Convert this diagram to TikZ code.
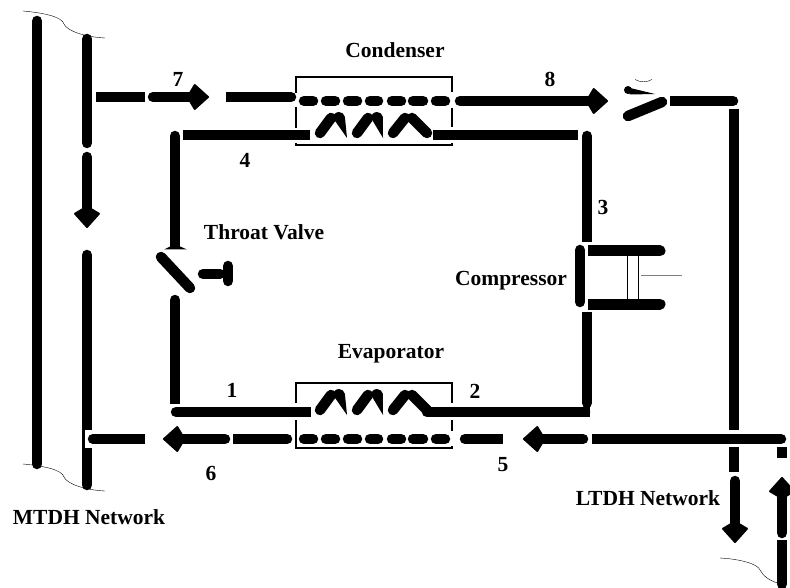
\documentclass[tikz,border=0pt]{standalone}
\usepackage{fontspec}
\setmainfont{Liberation Serif}
\usetikzlibrary{arrows.meta}
\definecolor{mGray}{HTML}{808080}

\begin{document}
\begin{tikzpicture}[x=1pt, y=-1pt,
      pipe/.style={line width=10.5pt},
      rpipe/.style={line width=10.5pt, line cap=round},
      flow/.style={line width=10.5pt, line cap=round, -{Kite[length=23pt, width=27pt, inset=8pt, line width=2pt, round]}},
      wall/.style={line width=1.8pt},
      lab/.style={font=\fontsize{21.5}{24}\selectfont\bfseries}]
    \useasboundingbox (0,0) rectangle (790,588);
    % MTDH side
    \draw[rpipe] (37,21) -- (37,464);
    \draw[rpipe] (87,39) -- (87,143);
    \draw[flow] (87,157) -- (87,228);
    \draw[rpipe] (87,255) -- (87,485);
    \foreach \y in {0,453} \draw[thin] (23,11+\y) .. controls (45,13+\y) and (62,17+\y) .. (64,24+\y) .. controls (67,31+\y) and (85,37+\y) .. (105,38+\y);
    % line 7
    \draw[pipe] (96,97) -- (145,97);
    \draw[flow] (153,97) -- (209,97);
    \draw[pipe] (226,97) -- (280,97);
    \draw[rpipe] (280,97) -- (291,97);
    % heat exchanger walls
    \draw[wall] (296,93) -- (296,77) -- (452,77) -- (452,92);
    \draw[wall] (296,143) -- (296,145) -- (452,145) -- (452,143);
    \draw[wall] (296,403) -- (296,383) -- (452,383) -- (452,403);
    \draw[wall] (296,420) -- (296,448) -- (452,448) -- (452,446);
    \foreach \xw/\ya/\yb in {296/107/128, 452/108/127, 452/420/431}
      \draw[wall] (\xw,\ya) -- (\xw,\yb);
    % dashes and fins
    \foreach \ydash/\yfin in {101/0, 439/277} {
      \foreach \xa/\xb in {304/313, 326/335, 348/357, 370/378, 392/401, 413/423, 436/445}
        \draw[rpipe] (\xa,\ydash) -- (\xb,\ydash);
      \foreach \xa/\xb in {320/331, 357/368, 393/405}
        \draw[rpipe] (\xa,133+\yfin) -- (\xb,118+\yfin);
      \foreach \xa/\xb in {333/347, 371/383}
        \fill (\xa,118+\yfin) arc[start angle=180, end angle=10, radius=6pt] -- (\xb,138+\yfin) -- cycle;
      \draw[rpipe] (412,118+\yfin) -- (427,133+\yfin);
    }
    % refrigerant loop
    \draw[pipe] (183,135) -- (310,135);
    \draw[pipe] (433,135) -- (578,135);
    \draw[rpipe] (175,136) -- (175,240);
    \draw[pipe] (175,230) -- (175,248);
    \fill (164,249.5) -- (171,246) -- (179,246) -- (187,249.5) -- cycle;
    \draw[rpipe] (175,300) -- (175,350);
    \draw[pipe] (175,340) -- (175,404);
    \draw[rpipe] (176,412) -- (300,412);
    \draw[pipe] (295,412) -- (311,412);
    \draw[rpipe] (427,412) -- (585,412);
    \draw[pipe] (560,412) -- (590,412);
    \draw[rpipe] (587,136) -- (587,200);
    \draw[pipe] (587,190) -- (587,242);
    \draw[pipe] (587,312) -- (587,370);
    \draw[rpipe] (587,360) -- (587,403);
    % throat valve
    \draw[rpipe] (161,257) -- (190,288);
    \draw[rpipe] (203,274) -- (220,274);
    \draw[rpipe] (228,266) -- (228,281);
    % compressor
    \draw[rpipe] (580,250) -- (580,302);
    \foreach \ycyl in {251,304} {
      \draw[rpipe, line width=11pt] (650,\ycyl) -- (660,\ycyl);
      \draw[pipe, line width=11pt] (588,\ycyl) -- (655,\ycyl);
    }
    \draw[thin] (627,256) -- (627,300);
    \draw[thin] (638,256) -- (638,300);
    \draw[mGray, thin] (641,275) -- (682,275);
    % line 8 and upper valve
    \draw[flow] (460,101) -- (608,101);
    \draw[rpipe] (628,116) -- (662,102);
    \fill (628,90) circle[radius=4pt];
    \fill (626,87) -- (655,94) -- (630,94.5) -- cycle;
    \draw[thin] (635,79.5) arc[start angle=240, end angle=300, radius=17pt];
    \draw[pipe] (670,101) -- (729,101);
    \draw[rpipe] (729,101) -- (733,101);
    % LTDH side
    \draw[pipe] (734,109) -- (734,430);
    \draw[pipe] (734,447) -- (734,472);
    \draw[flow] (735,481) -- (735,543);
    \draw[pipe] (782,447) -- (782,458);
    \draw[flow] (782,533) -- (782,477);
    \draw[pipe] (782,540) -- (782,580);
    \draw[rpipe] (782,575) -- (782,584);
    \draw[thin] (720,558) .. controls (740,559) and (758,564) .. (760,570) .. controls (763,576) and (770,581) .. (778,583);
    % line 5 and line 6
    \draw[pipe] (592,439) -- (770,439);
    \draw[rpipe] (765,439) -- (781,439);
    \draw[flow] (583,439) -- (523,439);
    \draw[rpipe] (465,439) -- (480,439);
    \draw[pipe] (475,439) -- (503,439);
    \draw[flow] (225,439) -- (163,439);
    \draw[pipe] (233,439) -- (280,439);
    \draw[rpipe] (280,439) -- (287,439);
    \draw[pipe] (110,439) -- (145,439);
    \fill[white] (85,430) rectangle (93,448);
    \draw[rpipe] (93,439) -- (115,439);
    % labels
    \node[lab] (condenser) at (395,50) {Condenser};
    \node[lab] (evaporator) at (391,354) {Evaporator};
    \node[lab] (throatvalve) at (264,232) {Throat Valve};
    \node[lab] (compressor) at (511,281) {Compressor};
    \node[lab] (mtdh) at (89,517) {MTDH Network};
    \node[lab] (ltdh) at (648,498) {LTDH Network};
    \foreach \id/\xn/\yn in {1/232/390, 2/475/391, 3/603/207, 4/245/160, 5/503/465, 6/211/473, 7/178/79, 8/550/79}
      \node[lab] (state\id) at (\xn,\yn) {\id};
\end{tikzpicture}
\end{document}
